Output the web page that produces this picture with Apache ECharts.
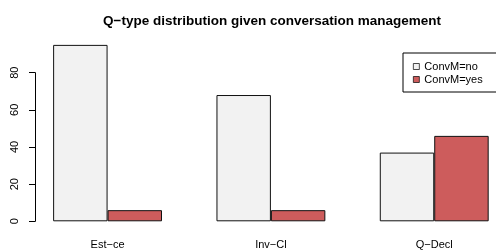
<!DOCTYPE html>
<html>
<head>
<meta charset="utf-8">
<script src="https://cdn.jsdelivr.net/npm/echarts@6/dist/echarts.min.js"></script>
<style>
  html, body { margin: 0; padding: 0; background: #fff; }
  #chart { width: 496px; height: 251px; }
</style>
</head>
<body>
<div id="chart"></div>
<script>
const categories = ['Est\u2212ce', 'Inv\u2212Cl', 'Q\u2212Decl']
const convmNo = [95, 68, 37]
const convmYes = [6, 6, 46]
const yTicks = [0, 20, 40, 60, 80]

const chart = echarts.init(document.getElementById('chart'))
const font = 'Liberation Sans, Arial, sans-serif'

chart.setOption({
  animation: false,
  title: {
    text: 'Q\u2212type distribution given conversation management',
    left: 267,
    textAlign: 'center',
    top: 9,
    textStyle: { fontFamily: font, fontSize: 13.5, fontWeight: 'bold', color: '#000' }
  },
  legend: {
    orient: 'vertical',
    left: 403,
    top: 53,
    padding: [8, 60, 7, 10],
    borderColor: '#000',
    borderWidth: 1,
    itemWidth: 6,
    itemHeight: 6,
    itemGap: 2,
    itemTextGap: 12,
    icon: 'rect',
    itemStyle: { borderColor: '#000', borderWidth: 0.7 },
    textStyle: { fontFamily: font, fontSize: 11, color: '#000', lineHeight: 11 },
    data: ['ConvM=no', 'ConvM=yes']
  },
  grid: [
    { left: 25.9, width: 490, top: 35.6, bottom: 29.7, outerBoundsMode: 'none' },
    { left: 35, width: 10, top: 72.7, bottom: 29.7, outerBoundsMode: 'none' }
  ],
  xAxis: [
    {
      type: 'category',
      gridIndex: 0,
      data: categories,
      axisLine: { show: false },
      axisTick: { show: false },
      axisLabel: { margin: 18, fontFamily: font, fontSize: 11, color: '#000' }
    },
    { type: 'value', gridIndex: 1, show: false }
  ],
  yAxis: [
    { type: 'value', gridIndex: 0, min: 0, max: 100, show: false },
    {
      type: 'value',
      gridIndex: 1,
      min: yTicks[0],
      max: yTicks[yTicks.length - 1],
      interval: 20,
      axisLine: { show: true, lineStyle: { color: '#000', width: 1 } },
      axisTick: { show: true, length: 6, lineStyle: { color: '#000' } },
      splitLine: { show: false },
      axisLabel: { rotate: 90, margin: 15, fontFamily: font, fontSize: 11, color: '#000' }
    }
  ],
  series: [
    {
      name: 'ConvM=no',
      type: 'bar',
      data: convmNo,
      barGap: '0%',
      barCategoryGap: '33.333%',
      itemStyle: { color: '#f2f2f2', borderColor: '#111', borderWidth: 1 }
    },
    {
      name: 'ConvM=yes',
      type: 'bar',
      data: convmYes,
      barGap: '0%',
      barCategoryGap: '33.333%',
      itemStyle: { color: '#cd5c5c', borderColor: '#111', borderWidth: 1 }
    }
  ]
})
</script>
</body>
</html>
